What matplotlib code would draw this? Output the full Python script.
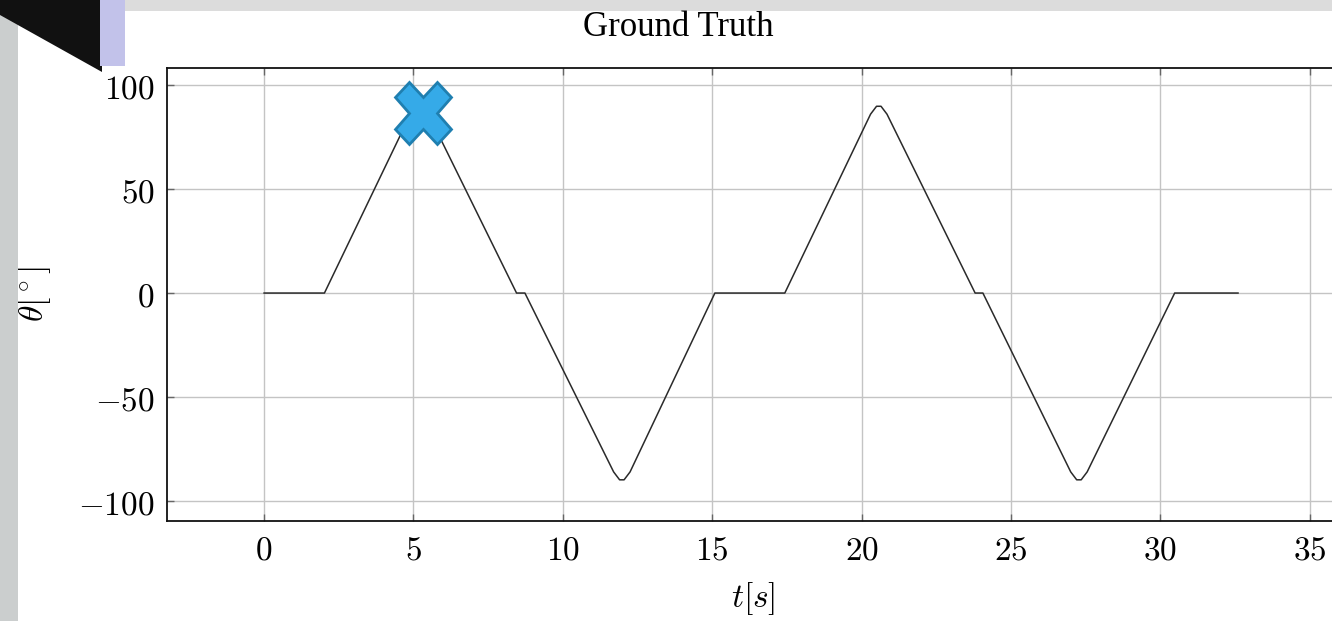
import matplotlib
matplotlib.use("Agg")
import matplotlib.pyplot as plt
from matplotlib.patches import Polygon, Rectangle
from matplotlib.markers import MarkerStyle
from matplotlib.transforms import Affine2D

# ---- data ----
t_keys = [0.0, 2.02, 4.9, 5.1, 5.3, 5.5, 8.45, 8.73, 11.7, 11.9, 12.05, 12.25,
          15.09, 17.43, 20.3, 20.5, 20.65, 20.85, 23.8, 24.06, 27.0, 27.2,
          27.35, 27.55, 30.48, 32.6]
theta_keys = [0, 0, 86, 89.8, 89.8, 86, 0, 0, -86, -89.8, -89.8, -86,
              0, 0, 86, 89.8, 89.8, 86, 0, 0, -86, -89.8,
              -89.8, -86, 0, 0]
marker_t = [5.32]
marker_theta = [86.5]
x_ticks = [0, 5, 10, 15, 20, 25, 30, 35]
y_ticks = [-100, -50, 0, 50, 100]
title = "Ground Truth"

plt.rcParams['mathtext.fontset'] = 'cm'

W, H = 1332, 621
fig = plt.figure(figsize=(W / 100, H / 100), dpi=100)
fig.patch.set_facecolor('white')

def px(x, y):
    return (x / W, 1 - y / H)

# screenshot decorations
fig.patches.append(Rectangle(px(0, 621), 18 / W, 611 / H, transform=fig.transFigure,
                             facecolor='#cbcece', edgecolor='none', zorder=0))
fig.patches.append(Rectangle(px(0, 11), 1, 11 / H, transform=fig.transFigure,
                             facecolor='#dcdcdc', edgecolor='none', zorder=0))
fig.patches.append(Polygon([px(0, 0), px(102, 0), px(102, 72), px(0, 15)],
                           closed=True, transform=fig.transFigure,
                           facecolor='#111111', edgecolor='none', zorder=1))
fig.patches.append(Rectangle(px(100, 66), 25 / W, 66 / H, transform=fig.transFigure,
                             facecolor='#c2c2ea', edgecolor='none', zorder=1))

left, right, top, bottom = 167, 1339, 68, 521
ax = fig.add_axes([left / W, 1 - bottom / H, (right - left) / W, (bottom - top) / H])
ax.set_xlim(-3.25, 35.98)
ax.set_ylim(-109.6, 108.2)

ax.plot(t_keys, theta_keys, color='#2a2a2a', lw=1.1, zorder=3)
mk = MarkerStyle('X', transform=Affine2D().scale(0.89, 1.0))
ax.plot(marker_t, marker_theta, marker=mk, ms=45, mfc='#35aae8', mec='#1f7fb0',
        mew=2, ls='none', zorder=5, clip_on=False)

ax.set_xticks(x_ticks)
ax.set_yticks(y_ticks)
ax.set_xticklabels([f'${v}$' for v in x_ticks])
ax.set_yticklabels([f'${v}$' for v in y_ticks])
ax.tick_params(direction='in', length=5, width=1, color='#666666', labelsize=24,
               top=True, right=True, pad=9)
ax.grid(True, color='#c4c4c4', lw=1)
for s in ax.spines.values():
    s.set_linewidth(1.3)
    s.set_color('#111111')

ax.set_xlabel(r'$t[s]$', fontsize=24, labelpad=10)
ax.set_ylabel(r'$\theta[^\circ]$', fontsize=24, labelpad=18)

fig.text(678 / W, 1 - 28 / H, title, fontsize=25, family='Liberation Serif',
         ha='center', va='center')

fig.savefig('out.png', dpi=100)
